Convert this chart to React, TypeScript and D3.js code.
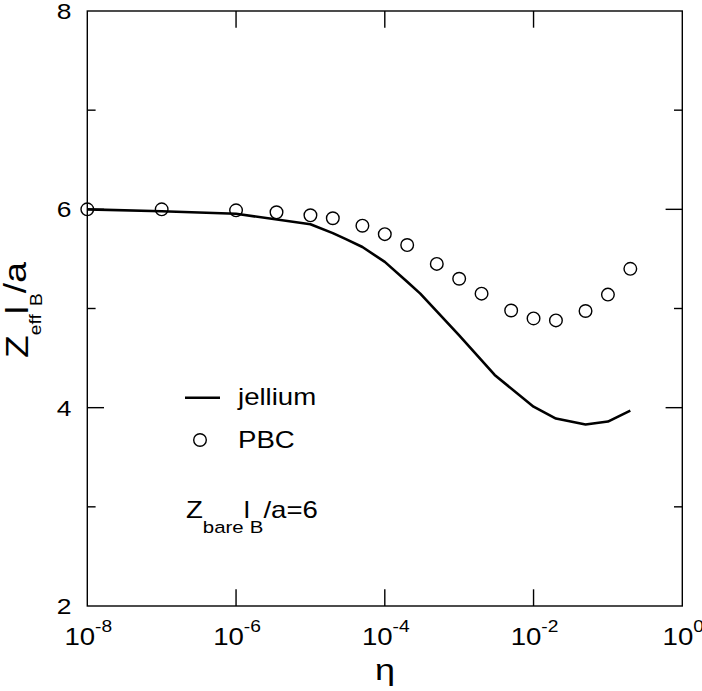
import * as d3 from 'd3';

// PBC simulation points (circles)
const pbcEta = [1e-8, 1e-7, 1e-6, 3.5e-6, 1e-5, 2e-5, 5e-5, 1e-4, 2e-4, 5e-4, 1e-3, 2e-3, 5e-3, 1e-2, 2e-2, 5e-2, 1e-1, 2e-1];
const pbcZ = [6.0, 6.0, 5.99, 5.97, 5.94, 5.91, 5.835, 5.75, 5.64, 5.45, 5.3, 5.15, 4.98, 4.9, 4.88, 4.975, 5.14, 5.4];

// jellium curve
const jelEta = [1e-8, 1e-7, 1e-6, 1e-5, 2e-5, 3e-5, 5e-5, 1e-4, 2e-4, 3e-4, 1e-3, 3e-3, 1e-2, 2e-2, 5e-2, 1e-1, 2e-1];
const jelZ = [6.0, 5.98, 5.955, 5.85, 5.76, 5.7, 5.62, 5.47, 5.27, 5.15, 4.73, 4.33, 4.01, 3.89, 3.83, 3.86, 3.97];

const xTicks = [1e-8, 1e-6, 1e-4, 1e-2, 1];
const xTickExp = ['-8', '-6', '-4', '-2', '0'];
const yMajor = [2, 4, 6, 8];
const yMinor = [3, 5, 7];

const W = 702;
const H = 691;
const FONT = '"Liberation Sans", Arial, Helvetica, sans-serif';
const SX = 1.2; // glyphs in the original are a bit wider than Arial

const x = d3.scaleLog().domain([1e-8, 1]).range([87.3, 682.3]);
const y = d3.scaleLinear().domain([2, 8]).range([606, 11]);

const MAJ = 16.7;
const MIN = 8.3;

function T({ tx, ty, size, anchor = 'start', rot = 0, children }: any) {
  return (
    <text
      transform={`translate(${tx},${ty})${rot ? ` rotate(${rot})` : ''} scale(${SX},1)`}
      fontSize={size}
      textAnchor={anchor}
      fill="#000"
    >
      {children}
    </text>
  );
}

export default function App() {
  const [x0, x1] = x.range();
  const [y0, y1] = y.range();

  const line = d3.line<number>()
    .x((_, i) => x(jelEta[i]))
    .y(d => y(d));

  return (
    <svg
      width={W}
      height={H}
      style={{ position: 'absolute', left: 0, top: 0, background: '#fff' }}
      fontFamily={FONT}
    >
      <rect x={0} y={0} width={W} height={H} fill="#fff" />

      {/* frame */}
      <rect x={x0} y={y1} width={x1 - x0} height={y0 - y1} fill="none" stroke="#000" strokeWidth={1.4} />

      {/* x ticks, bottom and top */}
      {xTicks.slice(1, -1).map(t => (
        <g key={'xt' + t} stroke="#000" strokeWidth={1.4}>
          <line x1={x(t)} x2={x(t)} y1={y0} y2={y0 - MAJ} />
          <line x1={x(t)} x2={x(t)} y1={y1} y2={y1 + MAJ} />
        </g>
      ))}

      {/* y ticks, left and right */}
      {yMajor.slice(1, -1).map(t => (
        <g key={'ym' + t} stroke="#000" strokeWidth={1.4}>
          <line x1={x0} x2={x0 + MAJ} y1={y(t)} y2={y(t)} />
          <line x1={x1} x2={x1 - MAJ} y1={y(t)} y2={y(t)} />
        </g>
      ))}
      {yMinor.map(t => (
        <g key={'yn' + t} stroke="#000" strokeWidth={1.4}>
          <line x1={x0} x2={x0 + MIN} y1={y(t)} y2={y(t)} />
          <line x1={x1} x2={x1 - MIN} y1={y(t)} y2={y(t)} />
        </g>
      ))}

      {/* tick labels */}
      {yMajor.map(t => (
        <T key={'yl' + t} tx={71.5} ty={y(t) + 8} size={22} anchor="end">{t}</T>
      ))}
      {xTicks.map((t, i) => (
        <T key={'xl' + t} tx={x(t) + 1} ty={645} size={23} anchor="middle">
          10<tspan fontSize={16} dy={-13.3}>{xTickExp[i]}</tspan>
        </T>
      ))}

      {/* axis titles */}
      <T tx={385} ty={680} size={30} anchor="middle">η</T>
      <T tx={27.5} ty={310} size={31} anchor="middle" rot={-90}>
        Z<tspan fontSize={16} dy={13}>eff</tspan>
        <tspan dy={-13}>l</tspan>
        <tspan fontSize={16} dy={14}>B</tspan>
        <tspan dy={-16}>/a</tspan>
      </T>

      {/* jellium */}
      <path d={line(jelZ) || ''} fill="none" stroke="#000" strokeWidth={2.6} strokeLinejoin="round" />

      {/* PBC */}
      {pbcZ.map((v, i) => (
        <circle key={'p' + i} cx={x(pbcEta[i])} cy={y(v)} r={6.3} fill="none" stroke="#000" strokeWidth={1.4} />
      ))}

      {/* legend */}
      <line x1={185} x2={220} y1={397.7} y2={397.7} stroke="#000" strokeWidth={2.6} />
      <T tx={238} ty={405} size={23}>jellium</T>
      <circle cx={200} cy={440} r={6.3} fill="none" stroke="#000" strokeWidth={1.4} />
      <T tx={238} ty={448.3} size={23}>PBC</T>

      {/* annotation */}
      <T tx={186} ty={518} size={23}>
        Z<tspan fontSize={17} dy={15}>bare</tspan>
        <tspan dy={-15}>l</tspan>
        <tspan fontSize={17} dy={15}>B</tspan>
        <tspan dy={-15}>/a=6</tspan>
      </T>
    </svg>
  );
}
